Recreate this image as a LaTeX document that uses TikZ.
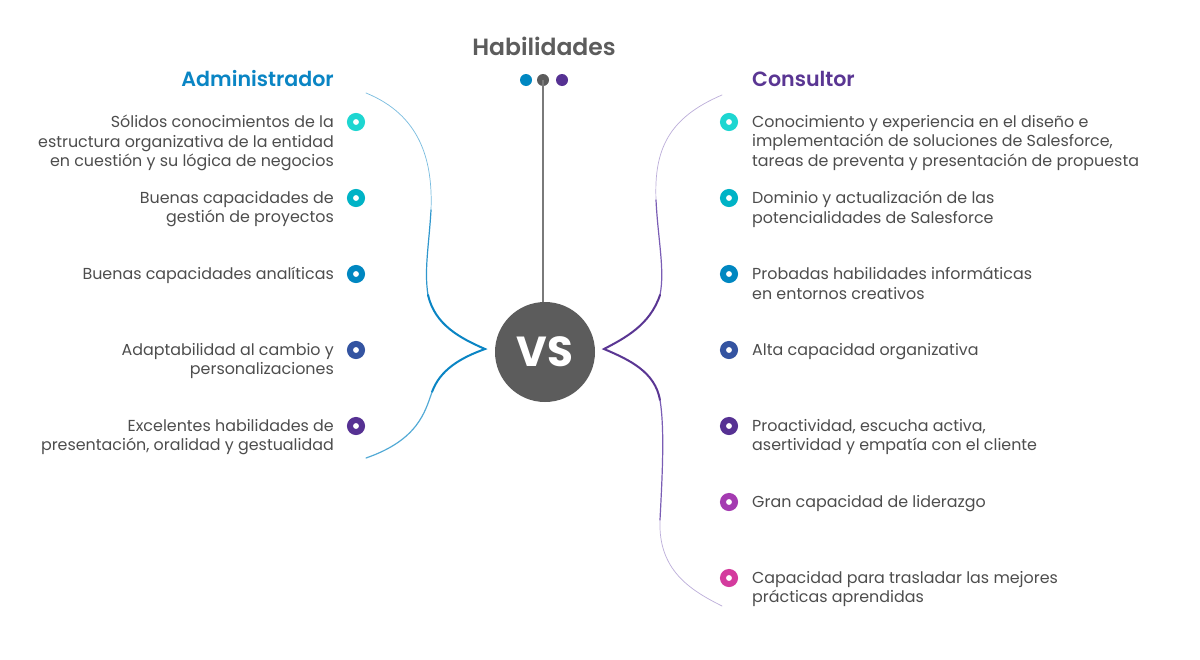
\documentclass[tikz,border=0pt]{standalone}
\usepackage{fontspec}
\setmainfont{Poppins}
\newfontfamily\semib{Poppins SemiBold}
\definecolor{c1}{HTML}{1ED6D1}
\definecolor{c2}{HTML}{00B3C6}
\definecolor{c3}{HTML}{0087C1}
\definecolor{c4}{HTML}{3454A1}
\definecolor{c5}{HTML}{563193}
\definecolor{c6}{HTML}{A43BB1}
\definecolor{c7}{HTML}{D43B9E}
\definecolor{admin}{HTML}{0A85C4}
\definecolor{cons}{HTML}{5A3693}
\definecolor{consl}{HTML}{7A5DB5}
\definecolor{tgray}{HTML}{4D4D4D}
\definecolor{vsgray}{HTML}{5C5C5C}
\definecolor{lgray}{HTML}{7A7A7A}
\tikzset{
  bul/.style={circle, draw=#1, line width=6pt, fill=white, minimum size=12pt, inner sep=0pt},
  ltxt/.style={anchor=north east, align=right, inner sep=0pt, text=tgray, font=\fontsize{15.9}{19.4}\selectfont},
  rtxt/.style={anchor=north west, align=left, inner sep=0pt, text=tgray, font=\fontsize{15.9}{19.4}\selectfont},
  dotm/.style={circle, fill=#1, minimum size=12pt, inner sep=0pt},
}
\begin{document}
\begin{tikzpicture}[x=1pt,y=-1pt]
\useasboundingbox[fill=white] (0,0) rectangle (1200,659);
% title
\node[text=vsgray, font=\fontsize{23.5}{27}\semib\selectfont, inner sep=0pt] (title) at (544,46) {Habilidades};
\node[dotm=c3] (d1) at (526,80) {};
\node[dotm=vsgray] (d2) at (543,80) {};
\node[dotm=c5] (d3) at (562,80) {};
\node[circle, fill=vsgray, minimum size=100pt, inner sep=0pt, text=white, font=\fontsize{42}{46}\bfseries\selectfont] (vs) at (545,352) {VS};
\draw[lgray, line width=1.2pt] (d2.center) -- (vs.north -| d2.center);
% headers
\node[anchor=east, inner sep=0pt, text=admin, font=\fontsize{20.6}{24}\semib\selectfont] (hadm) at (334,79) {Administrador};
\node[anchor=west, inner sep=0pt, text=cons, font=\fontsize{20.6}{24}\semib\selectfont] (hcons) at (752,79) {Consultor};
% left brace
\coordinate (la) at (366,93);
\coordinate (lb) at (431,210);
\coordinate (lc) at (428,295);
\coordinate (lt) at (485,349);
\coordinate (ld) at (432,392);
\coordinate (le) at (366,458);
\draw[admin!55, line width=0.7pt, line cap=round] (la) .. controls (420,115) and (433,160) .. (lb);
\draw[admin!85, line width=1.2pt, line cap=round] (lb) .. controls (429,245) and (424,270) .. (lc);
\draw[admin, line width=2pt, line cap=round, line join=miter] (lc) .. controls (435,325) and (460,338) .. (lt) .. controls (460,358) and (440,370) .. (ld);
\draw[admin!70, line width=1.2pt, line cap=round] (ld) .. controls (425,412) and (418,440) .. (le);
% right brace
\coordinate (ra) at (722,95);
\coordinate (rb) at (656,200);
\coordinate (rc) at (660,295);
\coordinate (rt) at (604,349);
\coordinate (rd) at (660,400);
\coordinate (re) at (660,520);
\coordinate (rf) at (722,606);
\draw[consl!50, line width=0.7pt, line cap=round] (ra) .. controls (668,118) and (654,150) .. (rb);
\draw[consl, line width=1.2pt, line cap=round] (rb) .. controls (658,240) and (665,270) .. (rc);
\draw[cons, line width=2pt, line cap=round, line join=miter] (rc) .. controls (650,325) and (625,338) .. (rt) .. controls (630,360) and (655,372) .. (rd);
\draw[consl, line width=1.2pt, line cap=round] (rd) .. controls (665,430) and (662,480) .. (re);
\draw[consl!50, line width=0.7pt, line cap=round] (re) .. controls (658,570) and (690,590) .. (rf);
% left bullets
\node[bul=c1] (lb1) at (356,122) {};
\node[bul=c2] (lb2) at (356,198) {};
\node[bul=c3] (lb3) at (356,274) {};
\node[bul=c4] (lb4) at (356,350) {};
\node[bul=c5] (lb5) at (356,426) {};
\node[ltxt] (lt1) at (334,115) {Sólidos conocimientos de la\\estructura organizativa de la entidad\\en cuestión y su lógica de negocios};
\node[ltxt] (lt2) at (334,191) {Buenas capacidades de\\gestión de proyectos};
\node[ltxt] (lt3) at (334,267) {Buenas capacidades analíticas};
\node[ltxt] (lt4) at (334,343) {Adaptabilidad al cambio y\\personalizaciones};
\node[ltxt] (lt5) at (334,419) {Excelentes habilidades de\\presentación, oralidad y gestualidad};
% right bullets
\node[bul=c1] (rb1) at (729,122) {};
\node[bul=c2] (rb2) at (729,198) {};
\node[bul=c3] (rb3) at (729,274) {};
\node[bul=c4] (rb4) at (729,350) {};
\node[bul=c5] (rb5) at (729,426) {};
\node[bul=c6] (rb6) at (729,502) {};
\node[bul=c7] (rb7) at (729,578) {};
\node[rtxt] (rt1) at (752,115) {Conocimiento y experiencia en el diseño e\\implementación de soluciones de Salesforce,\\tareas de preventa y presentación de propuesta};
\node[rtxt] (rt2) at (752,191) {Dominio y actualización de las\\potencialidades de Salesforce};
\node[rtxt] (rt3) at (752,267) {Probadas habilidades informáticas\\en entornos creativos};
\node[rtxt] (rt4) at (752,343) {Alta capacidad organizativa};
\node[rtxt] (rt5) at (752,419) {Proactividad, escucha activa,\\asertividad y empatía con el cliente};
\node[rtxt] (rt6) at (752,495) {Gran capacidad de liderazgo};
\node[rtxt] (rt7) at (752,571) {Capacidad para trasladar las mejores\\prácticas aprendidas};
\end{tikzpicture}
\end{document}
